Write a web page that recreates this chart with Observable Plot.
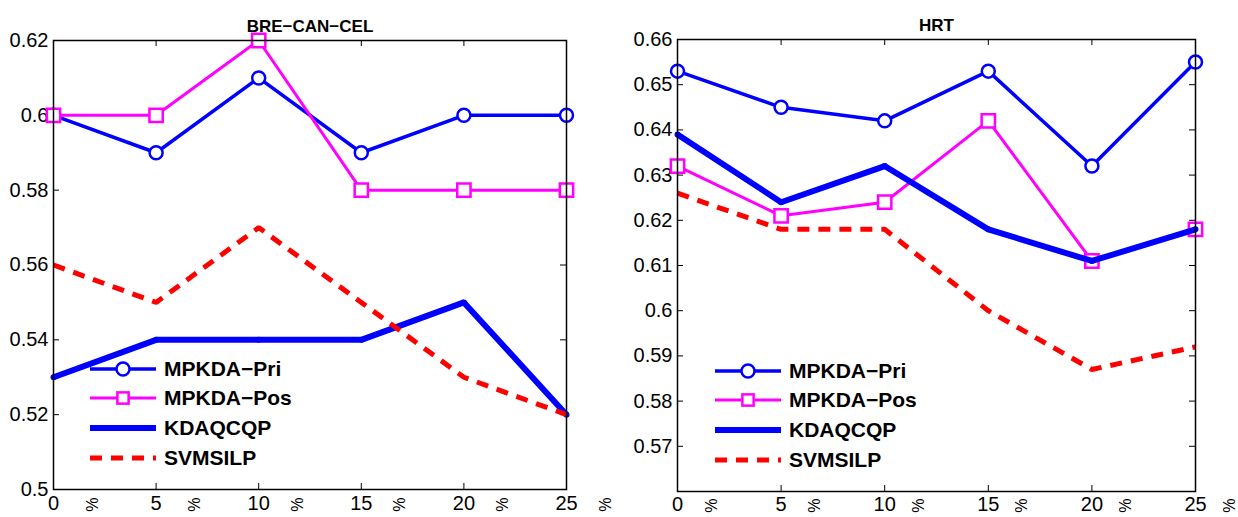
<!DOCTYPE html>
<html><head><meta charset="utf-8">
<script src="https://cdn.jsdelivr.net/npm/d3@7"></script>
<script src="https://cdn.jsdelivr.net/npm/@observablehq/plot@0.6"></script>
<style>
body{margin:0;background:#fff;font-family:"Liberation Sans",Arial,sans-serif;}
#wrap{position:relative;width:1238px;height:517px;display:flex;overflow:hidden;}
.leg{position:absolute;font-weight:bold;font-size:21px;color:#000;white-space:nowrap;display:flex;align-items:center;height:30px;}
.leg svg{margin-right:8px;}
</style></head><body><div id="wrap"></div>
<script>
// ---- data ----
const noiseLevels = [0, 5, 10, 15, 20, 25];
const seriesNames = ["MPKDA−Pri", "MPKDA−Pos", "KDAQCQP", "SVMSILP"];

const breTitle = "BRE−CAN−CEL";
const breMPKDAPri = [0.60, 0.59, 0.61, 0.59, 0.60, 0.60];
const breMPKDAPos = [0.60, 0.60, 0.62, 0.58, 0.58, 0.58];
const breKDAQCQP  = [0.53, 0.54, 0.54, 0.54, 0.55, 0.52];
const breSVMSILP  = [0.56, 0.55, 0.57, 0.55, 0.53, 0.52];
const breYTicks   = [0.5, 0.52, 0.54, 0.56, 0.58, 0.6, 0.62];

const hrtTitle = "HRT";
const hrtMPKDAPri = [0.653, 0.645, 0.642, 0.653, 0.632, 0.655];
const hrtMPKDAPos = [0.632, 0.621, 0.624, 0.642, 0.611, 0.618];
const hrtKDAQCQP  = [0.639, 0.624, 0.632, 0.618, 0.611, 0.618];
const hrtSVMSILP  = [0.626, 0.618, 0.618, 0.600, 0.587, 0.592];
const hrtYTicks   = [0.56, 0.57, 0.58, 0.59, 0.6, 0.61, 0.62, 0.63, 0.64, 0.65, 0.66];
const hrtYLabels  = [0.57, 0.58, 0.59, 0.6, 0.61, 0.62, 0.63, 0.64, 0.65, 0.66];

// ---- styles ----
const styles = {
  "MPKDA−Pri": {color: "#0000ff", width: 3.5, dash: null, symbol: "circle", r: 6.5, fill: "white", mstroke: 2.5},
  "MPKDA−Pos": {color: "#ff00ff", width: 3, dash: null, symbol: "square", r: 7.5, fill: "white", mstroke: 2.5},
  "KDAQCQP":   {color: "#0000ff", width: 6, dash: null, symbol: "circle", r: 3, fill: "#0000ff", mstroke: 0},
  "SVMSILP":   {color: "#ff0000", width: 5, dash: "12,9", symbol: null}
};

function rows(values) {
  const out = [];
  seriesNames.forEach((s, i) => values[i].forEach((v, j) => out.push({series: s, x: noiseLevels[j], y: v})));
  return out;
}

function panel({title, data, yDomain, yTicks, yLabels, width, mLeft, mRight, mTop, mBottom, xPad, pctDx}) {
  const height = 517;
  const fw = width - mLeft - mRight;
  const fh = height - mTop - mBottom;
  const marks = [
    Plot.tickY(yTicks, {y: d => d, insetRight: fw - 6, stroke: "black", strokeWidth: 1}),
    Plot.tickY(yTicks, {y: d => d, insetLeft: fw - 6, stroke: "black", strokeWidth: 1}),
    Plot.tickX(noiseLevels, {x: d => d, insetTop: fh - 6, stroke: "black", strokeWidth: 1}),
    Plot.tickX(noiseLevels, {x: d => d, insetBottom: fh - 6, stroke: "black", strokeWidth: 1}),
    Plot.axisY({ticks: yLabels, tickSize: 0, tickPadding: 5, fontSize: 20, label: null,
      tickFormat: d => String(+d.toFixed(3))}),
    Plot.axisX({ticks: noiseLevels, tickSize: 0, tickPadding: xPad, fontSize: 20, label: null,
      tickFormat: d => String(d)}),
    Plot.text(noiseLevels, {x: d => d, text: () => "%", frameAnchor: "bottom", dy: xPad + 9, dx: pctDx, rotate: 90, fontSize: 16}),
    Plot.text([title], {text: d => d, frameAnchor: "top", dy: -21, fontSize: 17, fontWeight: "bold"})
  ];
  for (const s of seriesNames) {
    const st = styles[s];
    const d = data.filter(r => r.series === s);
    marks.push(Plot.line(d, {x: "x", y: "y", stroke: st.color, strokeWidth: st.width,
      strokeDasharray: st.dash, strokeLinejoin: "miter", strokeLinecap: "butt"}));
    if (st.symbol) {
      marks.push(Plot.dot(d, {x: "x", y: "y", symbol: st.symbol, r: st.r, stroke: st.mstroke ? st.color : "none",
        strokeWidth: st.mstroke, fill: st.fill}));
    }
  }
  marks.push(Plot.frame({stroke: "black", strokeWidth: 1.5}));
  return Plot.plot({
    width, height, marginLeft: mLeft, marginRight: mRight, marginTop: mTop, marginBottom: mBottom,
    x: {domain: [0, 25]},
    y: {domain: yDomain},
    style: {fontFamily: "Liberation Sans, Arial, sans-serif", color: "black", background: "white"},
    marks
  });
}

const wrap = document.getElementById("wrap");
wrap.appendChild(panel({
  title: breTitle,
  data: rows([breMPKDAPri, breMPKDAPos, breKDAQCQP, breSVMSILP]),
  yDomain: [0.5, 0.62], yTicks: breYTicks, yLabels: breYTicks,
  width: 620, mLeft: 53, mRight: 54, mTop: 40, mBottom: 28, xPad: 6, pctDx: 32
}));
wrap.appendChild(panel({
  title: hrtTitle,
  data: rows([hrtMPKDAPri, hrtMPKDAPos, hrtKDAQCQP, hrtSVMSILP]),
  yDomain: [0.56, 0.66], yTicks: hrtYTicks, yLabels: hrtYLabels,
  width: 618, mLeft: 57, mRight: 43, mTop: 39, mBottom: 26, xPad: 5, pctDx: 27
}));

// ---- legends ----
function swatch(s) {
  const st = styles[s];
  const w = 66, h = 20, c = h / 2;
  let m = "";
  if (st.symbol === "circle" && st.mstroke) m = `<circle cx="${w/2}" cy="${c}" r="${st.r}" fill="white" stroke="${st.color}" stroke-width="${st.mstroke}"/>`;
  else if (st.symbol === "circle") m = `<circle cx="${w/2}" cy="${c}" r="${st.r}" fill="${st.color}"/>`;
  else if (st.symbol === "square") { const a = st.r * 1.5; m = `<rect x="${w/2 - a/2}" y="${c - a/2}" width="${a}" height="${a}" fill="white" stroke="${st.color}" stroke-width="${st.mstroke}"/>`; }
  return `<svg width="${w}" height="${h}"><line x1="0" x2="${w}" y1="${c}" y2="${c}" stroke="${st.color}" stroke-width="${st.width}" ${st.dash ? `stroke-dasharray="12,9"` : ""}/>${m}</svg>`;
}
function legend(x, ys) {
  seriesNames.forEach((s, i) => {
    const div = document.createElement("div");
    div.className = "leg";
    div.style.left = x + "px";
    div.style.top = (ys[i] - 15) + "px";
    div.innerHTML = swatch(s) + `<span>${s}</span>`;
    wrap.appendChild(div);
  });
}
legend(90, [369, 398, 428, 458]);
legend(715, [371, 400, 430, 460]);
</script></body></html>
